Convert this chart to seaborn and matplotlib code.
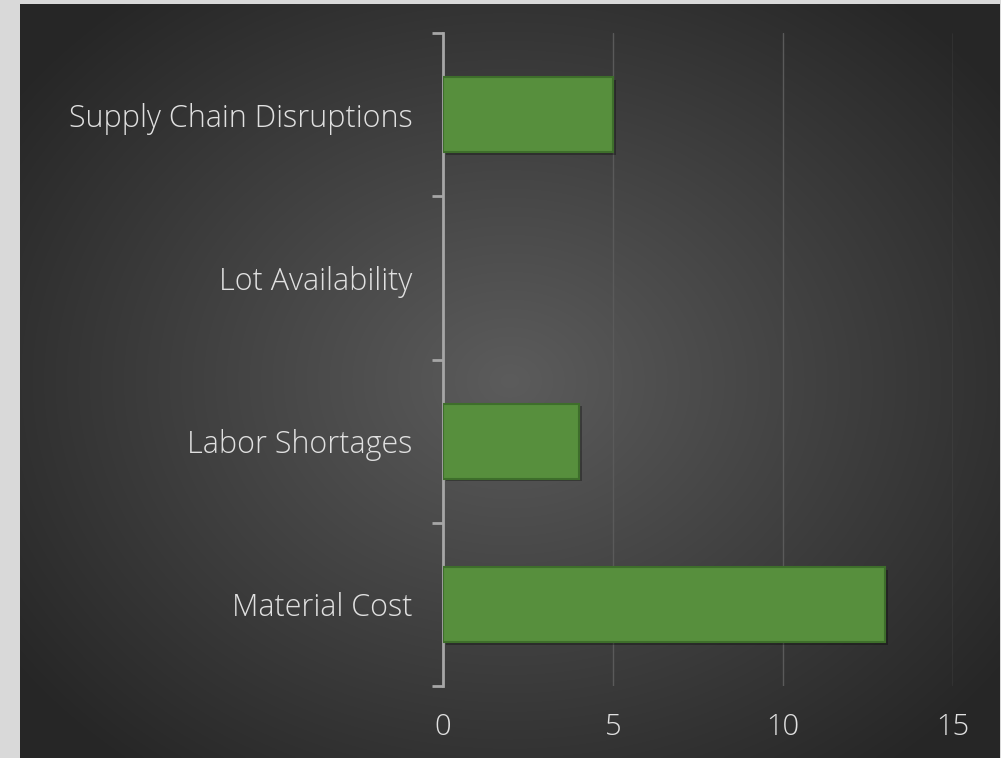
import numpy as np
import pandas as pd
import matplotlib
matplotlib.use("Agg")
import matplotlib.pyplot as plt
import matplotlib.patheffects as pe
import seaborn as sns

categories = ["Supply Chain Disruptions", "Lot Availability", "Labor Shortages", "Material Cost"]
counts = [5, 0, 4, 13]
x_ticks = [0, 5, 10, 15]

df = pd.DataFrame({"category": categories, "count": counts})

sns.set_theme(style="dark")
plt.rcParams["font.family"] = ["Open Sans", "DejaVu Sans"]

W, H = 1001, 758
fig = plt.figure(figsize=(W / 100, H / 100), dpi=100)
fig.patch.set_facecolor("#d9d9d9")

# dark panel with a soft radial glow
bg = fig.add_axes([20 / W, 0, 980 / W, 754 / H])
bg.set_axis_off()
yy, xx = np.mgrid[-1:1:400j, -1:1:520j]
r = np.sqrt((xx * 1.0) ** 2 + (yy * 0.95) ** 2)
r = np.clip(r / 1.25, 0, 1)
lo, hi = np.array([0.15, 0.15, 0.15]), np.array([0.36, 0.36, 0.36])
img = hi[None, None, :] * (1 - r[..., None]) + lo[None, None, :] * r[..., None]
bg.imshow(img, aspect="auto", extent=[0, 1, 0, 1], interpolation="bilinear")

ax = fig.add_axes([443 / W, 1 - 686 / H, 510 / W, 653 / H])
ax.patch.set_alpha(0)

sns.barplot(data=df, x="count", y="category", order=categories, orient="h",
            color="#578f3d", saturation=1, width=0.46, ax=ax,
            edgecolor="#3e6e2b", linewidth=1.5, zorder=3)
for p in ax.patches:
    if p.get_width() == 0:
        p.set_visible(False)
        continue
    p.set_path_effects([pe.SimplePatchShadow(offset=(2, -2), shadow_rgbFace="black", alpha=0.3),
                        pe.Normal()])

ax.set_xlim(0, 15)
ax.set_ylim(3.5, -0.5)
ax.set_xticks(x_ticks)
ax.set_xticklabels([str(t) for t in x_ticks])
ax.set_xlabel("")
ax.set_ylabel("")

ax.grid(axis="x", color="#5a5a5a", linewidth=1.0, zorder=0)
ax.grid(axis="y", visible=False)

for s in ["top", "right", "bottom"]:
    ax.spines[s].set_visible(False)
ax.spines["left"].set_color("#a6a6a6")
ax.spines["left"].set_linewidth(2)

ax.set_yticks([-0.5, 0.5, 1.5, 2.5, 3.5], minor=True)
ax.tick_params(axis="y", which="minor", length=8, width=2, color="#a6a6a6", left=True)
ax.tick_params(axis="y", which="major", length=0, pad=22, labelsize=22, labelcolor="#e0e0e0")
ax.tick_params(axis="x", which="major", length=0, pad=19, labelsize=21, labelcolor="#e0e0e0")
for lbl in ax.get_yticklabels() + ax.get_xticklabels():
    lbl.set_fontweight("light")

fig.savefig("out.png", dpi=100, facecolor=fig.get_facecolor())
